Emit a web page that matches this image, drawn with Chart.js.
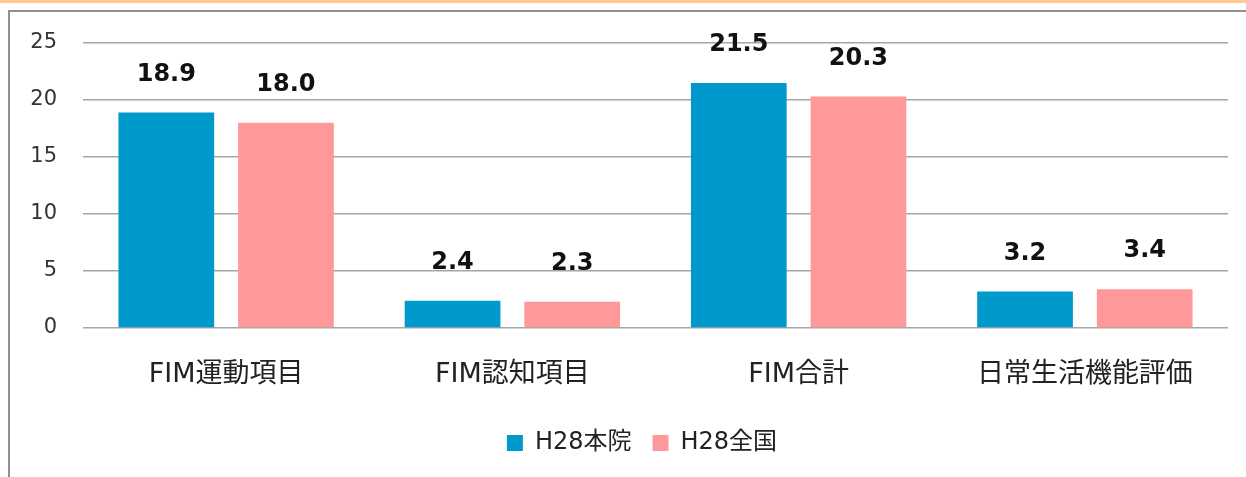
<!DOCTYPE html>
<html>
<head>
<meta charset="utf-8">
<script src="https://cdn.jsdelivr.net/npm/chart.js@4.4.1/dist/chart.umd.min.js"></script>
<style>
  html, body { margin: 0; padding: 0; background: #fff; width: 1246px; height: 477px; overflow: hidden; }
  #band { position: absolute; left: 0; top: 0; width: 1246px; height: 3px; background: #FFC98F; }
  #frame { position: absolute; left: 8px; top: 10px; width: 1300px; height: 480px; border-left: 2px solid #909090; border-top: 2px solid #909090; }
  #wrap { position: absolute; left: 0; top: 0; width: 1246px; height: 477px; }
</style>
</head>
<body>
<div id="band"></div>
<div id="frame"></div>
<div id="wrap"><canvas id="c" width="1246" height="477"></canvas></div>
<script>
const categories = ["FIM運動項目", "FIM認知項目", "FIM合計", "日常生活機能評価"];
const seriesNames = ["H28本院", "H28全国"];
const hospital = [18.9, 2.4, 21.5, 3.2];
const national = [18.0, 2.3, 20.3, 3.4];
const yTicks = [0, 5, 10, 15, 20, 25];

const FONT = '"DejaVu Sans", "Noto Sans CJK JP", sans-serif';

const valueLabels = {
  id: 'valueLabels',
  afterDatasetsDraw(chart) {
    const ctx = chart.ctx;
    ctx.save();
    ctx.font = 'bold 24px ' + FONT;
    ctx.fillStyle = '#111';
    ctx.textAlign = 'center';
    ctx.textBaseline = 'middle';
    chart.data.datasets.forEach((ds, i) => {
      chart.getDatasetMeta(i).data.forEach((bar, j) => {
        ctx.fillText(ds.data[j].toFixed(1), bar.x, bar.y - 38);
      });
    });
    ctx.restore();
  }
};

const legendShift = {
  id: 'legendShift',
  afterLayout(chart) {
    if (chart.legend) { chart.legend.left += 28; chart.legend.right += 28; }
  }
};

new Chart(document.getElementById('c'), {
  type: 'bar',
  data: {
    labels: categories,
    datasets: [
      { label: seriesNames[0], data: hospital, backgroundColor: '#0099CC' },
      { label: seriesNames[1], data: national, backgroundColor: '#FF9999' }
    ]
  },
  options: {
    responsive: false,
    animation: false,
    devicePixelRatio: 1,
    layout: { padding: { left: 0, right: 18, top: 43, bottom: 12 } },
    datasets: { bar: { categoryPercentage: 0.836, barPercentage: 0.80 } },
    plugins: {
      legend: {
        position: 'bottom',
        labels: {
          boxWidth: 16, boxHeight: 16, padding: 21,
          color: '#222',
          font: { family: FONT, size: 24 }
        }
      },
      tooltip: { enabled: false }
    },
    scales: {
      x: {
        grid: { display: false, drawTicks: false },
        border: { display: false },
        ticks: { color: '#222', font: { family: FONT, size: 27 }, padding: 31, maxRotation: 0 },
        afterFit(s) { s.height = 82; }
      },
      y: {
        min: 0, max: 25,
        afterBuildTicks(s) { s.ticks = yTicks.map(v => ({ value: v })); },
        grid: { color: '#A6A6A6', lineWidth: 1.5, drawTicks: false },
        border: { display: false },
        ticks: { color: '#333', font: { family: FONT, size: 21 }, padding: 26 },
        afterFit(s) { s.width = 83; }
      }
    }
  },
  plugins: [valueLabels, legendShift]
});
</script>
</body>
</html>
